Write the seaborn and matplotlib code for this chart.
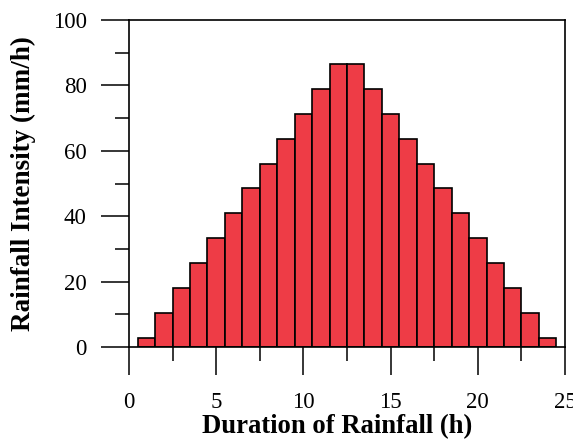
import matplotlib
matplotlib.use("Agg")
import matplotlib.pyplot as plt
import seaborn as sns
import pandas as pd
from matplotlib.ticker import MultipleLocator

# Data
hours = [1, 2, 3, 4, 5, 6, 7, 8, 9, 10, 11, 12,
         13, 14, 15, 16, 17, 18, 19, 20, 21, 22, 23, 24]
intensity = [2.9, 10.5, 18.1, 25.7, 33.3, 40.9, 48.5, 56.1, 63.7, 71.3, 78.9, 86.5,
             86.5, 78.9, 71.3, 63.7, 56.1, 48.5, 40.9, 33.3, 25.7, 18.1, 10.5, 2.9]
x_ticks = [0, 5, 10, 15, 20, 25]
y_ticks = [0, 20, 40, 60, 80, 100]

df = pd.DataFrame({"hour": hours, "intensity": intensity})

sns.set_theme(style="white")
plt.rcParams["font.family"] = ["Liberation Serif", "DejaVu Serif"]

fig = plt.figure(figsize=(5.73, 4.42), dpi=100)
ax = fig.add_axes([129/573, 1-347/442, (565-129)/573, (347-20)/442])

sns.barplot(data=df, x="hour", y="intensity", native_scale=True, width=1.0,
            color="#EE3C46", saturation=1, edgecolor="black", linewidth=1.2, ax=ax)

ax.set_xlim(0, 25)
ax.set_ylim(0, 100)
ax.set_xticks(x_ticks)
ax.set_yticks(y_ticks)
ax.xaxis.set_minor_locator(MultipleLocator(2.5))
ax.yaxis.set_minor_locator(MultipleLocator(10))

for s in ax.spines.values():
    s.set_visible(True)
    s.set_color("black")
    s.set_linewidth(1.2)

ax.tick_params(axis="both", which="major", direction="out", length=20.5, width=1.1,
               color="black", labelsize=16.5, labelcolor="black",
               bottom=True, left=True, top=False, right=False)
ax.tick_params(axis="x", which="major", pad=12)
ax.tick_params(axis="y", which="major", pad=10)
ax.tick_params(axis="both", which="minor", direction="out", length=10, width=1.1,
               color="black", bottom=True, left=True, top=False, right=False)

ax.set_xlabel("Duration of Rainfall (h)", fontsize=19.2, fontweight="bold", color="black")
ax.xaxis.set_label_coords((337 - 129) / 436, (347 - 414) / 327)
ax.set_ylabel("Rainfall Intensity (mm/h)", fontsize=19.5, fontweight="bold", labelpad=12, color="black")

fig.savefig("out.png", dpi=100)
